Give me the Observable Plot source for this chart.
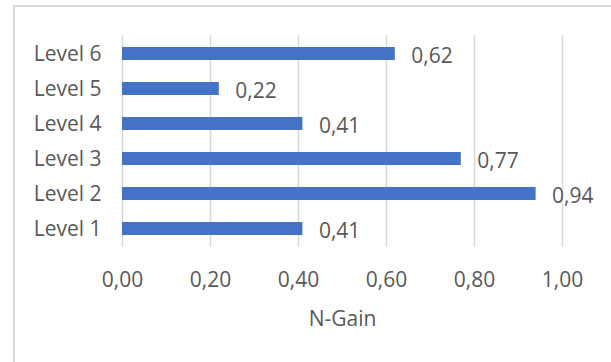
<!DOCTYPE html>
<html>
<head>
<meta charset="utf-8">
<script src="https://cdn.jsdelivr.net/npm/d3@7"></script>
<script src="https://cdn.jsdelivr.net/npm/@observablehq/plot@0.6"></script>
<style>
  html, body { margin: 0; padding: 0; background: #fff; }
  #wrap { position: relative; width: 611px; height: 362px; overflow: hidden; }
  #frame { position: absolute; left: 13px; top: 5px; width: 700px; height: 400px;
           border-left: 2px solid #d9d9d9; border-top: 2px solid #d9d9d9; box-sizing: border-box; }
  #wrap svg { position: absolute; left: 0; top: 0; }
</style>
</head>
<body>
<div id="wrap"><div id="frame"></div></div>
<script>
const categories = ["Level 1", "Level 2", "Level 3", "Level 4", "Level 5", "Level 6"];
const values = [0.41, 0.94, 0.77, 0.41, 0.22, 0.62];
const xTicks = [0, 0.2, 0.4, 0.6, 0.8, 1.0];
const xLabel = "N-Gain";

const data = categories.map((c, i) => ({level: c, value: values[i]}));
const fmt = v => d3.format(".2f")(v).replace(".", ",");
const textColor = "#595959";
const font = "'Open Sans', sans-serif";
const fs = 21;

const chart = Plot.plot({
  width: 611,
  height: 362,
  marginLeft: 122,
  marginRight: 49,
  marginTop: 35,
  marginBottom: 115,
  style: {fontFamily: font, fontSize: fs + "px", color: textColor, background: "transparent"},
  x: {domain: [0, 1], ticks: xTicks, tickFormat: fmt, label: null},
  y: {domain: categories.slice().reverse(), paddingInner: 0.64, paddingOuter: 0.32, label: null},
  marks: [
    Plot.gridX(xTicks, {stroke: "#d9d9d9", strokeOpacity: 1, strokeWidth: 1.5}),
    Plot.barX(data, {x: "value", y: "level", fill: "#4472C4"}),
    Plot.text(data, {x: "value", y: "level", text: d => fmt(d.value), textAnchor: "start", dx: 16, dy: 2.5, fill: textColor, fontSize: fs}),
    Plot.axisX(xTicks, {tickSize: 0, tickPadding: 25, tickFormat: fmt, fill: textColor, fontSize: fs, label: null}),
    Plot.axisY({tickSize: 0, tickPadding: 21, fill: textColor, fontSize: fs, dy: 0, label: null}),
    Plot.text([xLabel], {frameAnchor: "bottom", lineAnchor: "middle", dy: 72, text: d => d, fill: textColor, fontSize: fs})
  ]
});
document.getElementById("wrap").appendChild(chart);
</script>
</body>
</html>
